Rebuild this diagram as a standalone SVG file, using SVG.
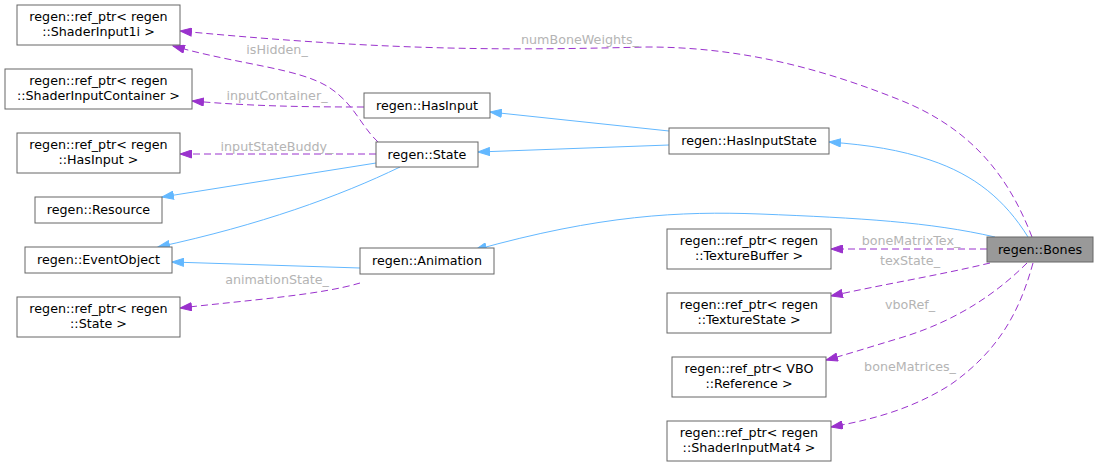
<svg xmlns="http://www.w3.org/2000/svg" width="1099" height="467" viewBox="0 0 1099 467">
<style>
.n rect{fill:#fff;stroke:#666;stroke-width:1}
.n text{font-family:"DejaVu Sans",sans-serif;font-size:12.7px;fill:#000;text-anchor:middle}
.b{fill:none;stroke:#63b8ff;stroke-width:1}
.d{fill:none;stroke:#9a32cd;stroke-width:1;stroke-dasharray:7,4}
.l{font-family:"DejaVu Sans",sans-serif;font-size:12.7px;fill:#b4b4b4;text-anchor:middle}
</style>
<defs>
<marker id="ab" markerUnits="userSpaceOnUse" markerWidth="13" markerHeight="9" refX="12" refY="4.5" orient="auto" viewBox="0 0 13 9"><path d="M0.5,0.5 L12,4.5 L0.5,8.5 z" fill="#63b8ff" stroke="#63b8ff"/></marker>
<marker id="ap" markerUnits="userSpaceOnUse" markerWidth="13" markerHeight="9" refX="12" refY="4.5" orient="auto" viewBox="0 0 13 9"><path d="M0.5,0.5 L12,4.5 L0.5,8.5 z" fill="#9a32cd" stroke="#9a32cd"/></marker>
</defs>
<rect width="1099" height="467" fill="#fff"/>
<g id="edges">
<path class="b" d="M669,131 L490,112" marker-end="url(#ab)"/>
<path class="b" d="M669,145 L478,152" marker-end="url(#ab)"/>
<path class="b" d="M1028,237 C1005,200 975,175 930,160 C900,150 870,145 829,142" marker-end="url(#ab)"/>
<path class="b" d="M995,237 C930,222 860,218 760,214 C680,211 600,215 475,250" marker-end="url(#ab)"/>
<path class="b" d="M376,163 L162,197" marker-end="url(#ab)"/>
<path class="b" d="M400,167 C340,196 260,225 158,247" marker-end="url(#ab)"/>
<path class="b" d="M360,268 L172,262" marker-end="url(#ab)"/>
<path class="d" d="M1032,237 C1010,180 975,130 900,100 C820,68 740,47 647,47 C520,50 400,52 180,31" marker-end="url(#ap)"/>
<path class="d" d="M378,142 C360,125 355,105 330,88 C300,68 240,65 173,46" marker-end="url(#ap)"/>
<path class="d" d="M364,107 C300,107 250,106 192,101" marker-end="url(#ap)"/>
<path class="d" d="M376,154 L180,154" marker-end="url(#ap)"/>
<path class="d" d="M360,283 C320,295 250,300 180,308" marker-end="url(#ap)"/>
<path class="d" d="M987,249 L831,249" marker-end="url(#ap)"/>
<path class="d" d="M990,263 C940,275 880,285 831,296" marker-end="url(#ap)"/>
<path class="d" d="M1027,263 C1000,290 960,320 900,338 C870,347 845,355 826,360" marker-end="url(#ap)"/>
<path class="d" d="M1033,263 C1020,310 1000,350 950,385 C910,410 870,420 831,427" marker-end="url(#ap)"/>
<text class="l" x="580" y="44">numBoneWeights_</text>
<text class="l" x="277" y="54">isHidden_</text>
<text class="l" x="277" y="100">inputContainer_</text>
<text class="l" x="277" y="151">inputStateBuddy_</text>
<text class="l" x="277" y="284">animationState_</text>
<text class="l" x="911" y="245">boneMatrixTex_</text>
<text class="l" x="910" y="265">texState_</text>
<text class="l" x="910" y="309">vboRef_</text>
<text class="l" x="910" y="371">boneMatrices_</text>
</g>
<g id="n1" class="n"><rect x="17" y="5" width="163" height="40"/><text x="98.5" y="21">regen::ref_ptr&lt; regen</text><text x="98.5" y="36">::ShaderInput1i &gt;</text></g>
<g id="n2" class="n"><rect x="5" y="69" width="187" height="40"/><text x="98.5" y="85">regen::ref_ptr&lt; regen</text><text x="98.5" y="100">::ShaderInputContainer &gt;</text></g>
<g id="n3" class="n"><rect x="17" y="133" width="163" height="40"/><text x="98.5" y="149">regen::ref_ptr&lt; regen</text><text x="98.5" y="164">::HasInput &gt;</text></g>
<g id="n4" class="n"><rect x="35" y="197" width="127" height="26"/><text x="98.5" y="214">regen::Resource</text></g>
<g id="n5" class="n"><rect x="25" y="247" width="147" height="26"/><text x="98.5" y="264">regen::EventObject</text></g>
<g id="n6" class="n"><rect x="17" y="297" width="163" height="40"/><text x="98.5" y="313">regen::ref_ptr&lt; regen</text><text x="98.5" y="328">::State &gt;</text></g>
<g id="n7" class="n"><rect x="364" y="93" width="126" height="25"/><text x="427" y="109.5">regen::HasInput</text></g>
<g id="n8" class="n"><rect x="376" y="142" width="102" height="25"/><text x="427" y="158.5">regen::State</text></g>
<g id="n9" class="n"><rect x="360" y="248" width="134" height="26"/><text x="427" y="264.5">regen::Animation</text></g>
<g id="n10" class="n"><rect x="669" y="128" width="160" height="26"/><text x="749" y="144.5">regen::HasInputState</text></g>
<g id="n11" class="n"><rect x="987" y="237" width="106" height="25" style="fill:#999"/><text x="1040" y="253.5">regen::Bones</text></g>
<g id="n12" class="n"><rect x="667" y="229" width="164" height="40"/><text x="749" y="245">regen::ref_ptr&lt; regen</text><text x="749" y="260">::TextureBuffer &gt;</text></g>
<g id="n13" class="n"><rect x="667" y="293" width="164" height="40"/><text x="749" y="309">regen::ref_ptr&lt; regen</text><text x="749" y="324">::TextureState &gt;</text></g>
<g id="n14" class="n"><rect x="672" y="357" width="154" height="40"/><text x="749" y="373">regen::ref_ptr&lt; VBO</text><text x="749" y="388">::Reference &gt;</text></g>
<g id="n15" class="n"><rect x="667" y="421" width="164" height="40"/><text x="749" y="437">regen::ref_ptr&lt; regen</text><text x="749" y="452">::ShaderInputMat4 &gt;</text></g>
</svg>
